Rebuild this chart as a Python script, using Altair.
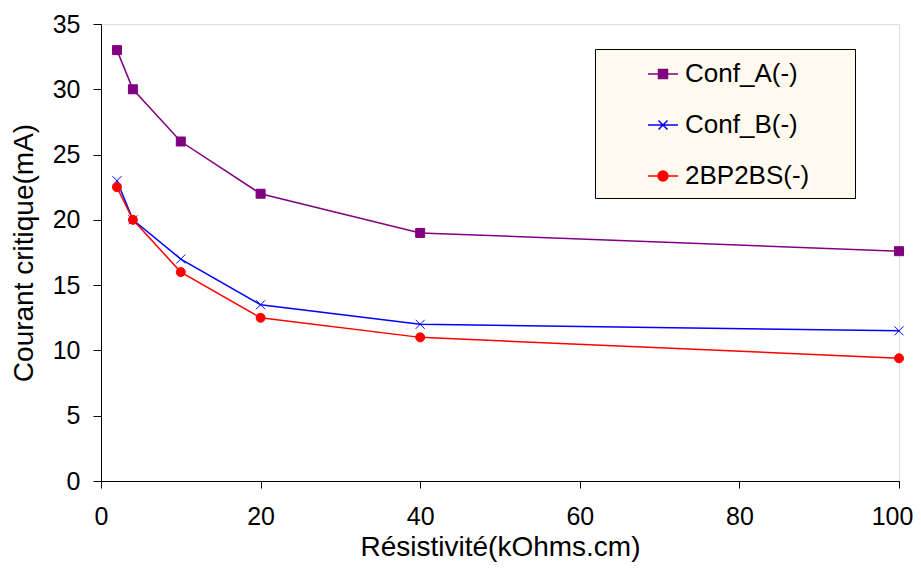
import altair as alt
import pandas as pd

# ---- data ----
resistivity = [2, 4, 10, 20, 40, 100]
conf_a = [33, 30, 26, 22, 19, 17.6]
conf_b = [23, 20, 17, 13.5, 12, 11.5]
bp2bs = [22.5, 20, 16, 12.5, 11, 9.4]

series_names = ["Conf_A(-)", "Conf_B(-)", "2BP2BS(-)"]
series_values = [conf_a, conf_b, bp2bs]
series_colors = ["#800080", "#0000FF", "#FF0000"]

x_ticks = [0, 20, 40, 60, 80, 100]
y_ticks = [0, 5, 10, 15, 20, 25, 30, 35]

rows = []
for name, vals in zip(series_names, series_values):
    for xv, yv in zip(resistivity, vals):
        rows.append({"x": xv, "y": yv, "series": name})
df = pd.DataFrame(rows)

FONT = "Liberation Sans"

# plot marker shapes
x_path = "M-1,-1L1,1M-1,1L1,-1"
plot_shapes = ["square", x_path, "circle"]
# legend symbols: line segment + marker
legend_shapes = [
    "M-1,0L1,0M-0.3,-0.3L0.3,-0.3L0.3,0.3L-0.3,0.3Z",
    "M-1,0L1,0M-0.3,-0.3L0.3,0.3M-0.3,0.3L0.3,-0.3",
    "M-1,0L1,0M-0.33,0A0.33,0.33,0,1,1,0.33,0A0.33,0.33,0,1,1,-0.33,0Z",
]

xenc = alt.X(
    "x:Q",
    scale=alt.Scale(domain=[0, 100], nice=False),
    axis=alt.Axis(
        values=x_ticks, title="Résistivité(kOhms.cm)", grid=False,
        labelFontSize=25, titleFontSize=28, tickSize=7, labelPadding=16,
        titlePadding=4, labelFont=FONT, titleFont=FONT,
        titleFontWeight="normal", domainColor="black", tickColor="black",
        labelColor="black", titleColor="black", labelFlush=False,
        labelOffset={"condition": {"test": "datum.value === 100", "value": -7}, "value": 0},
    ),
)
yenc = alt.Y(
    "y:Q",
    scale=alt.Scale(domain=[0, 35], nice=False),
    axis=alt.Axis(
        values=y_ticks, title="Courant critique(mA)", grid=False,
        labelFontSize=25, titleFontSize=28, tickSize=8, labelPadding=13,
        titlePadding=14, labelFont=FONT, titleFont=FONT,
        titleFontWeight="normal", domainColor="black", tickColor="black",
        labelColor="black", titleColor="black",
    ),
)

dom = series_names

lines = alt.Chart(df).mark_line(strokeWidth=1.5).encode(
    x=xenc, y=yenc,
    color=alt.Color("series:N", scale=alt.Scale(domain=dom, range=series_colors), legend=None),
)

points = alt.Chart(df).mark_point(strokeWidth=1, size=81, opacity=1).encode(
    x=xenc, y=yenc,
    fill=alt.Fill("series:N", scale=alt.Scale(domain=dom, range=series_colors), legend=None),
    stroke=alt.Stroke("series:N", scale=alt.Scale(domain=dom, range=series_colors), legend=None),
    shape=alt.Shape("series:N", scale=alt.Scale(domain=dom, range=plot_shapes), legend=None),
)

pad = "\u00a0" * 5 + "\u200b"
leg = alt.Legend(
    title=None, orient="none", legendX=494, legendY=25,
    fillColor="#FFFAF0", strokeColor="black", padding=9,
    rowPadding=22, symbolSize=900, symbolOffset=43, labelOffset=6,
    symbolStrokeWidth=1.5, symbolOpacity=1, labelFontSize=26, labelFont=FONT,
    labelColor="black", labelLimit=400, labelExpr="datum.label + '" + pad + "'",
)

legend_layer = alt.Chart(df).mark_point(opacity=0, filled=False).encode(
    x=xenc, y=yenc,
    fill=alt.Fill("series:N", scale=alt.Scale(domain=dom, range=series_colors), legend=leg),
    stroke=alt.Stroke("series:N", scale=alt.Scale(domain=dom, range=series_colors), legend=leg),
    shape=alt.Shape("series:N", scale=alt.Scale(domain=dom, range=legend_shapes), legend=leg),
)

chart = (
    alt.layer(lines, points, legend_layer)
    .resolve_scale(color="independent", fill="independent", stroke="independent", shape="independent")
    .properties(
        width=798, height=457,
        autosize=alt.AutoSizeParams(type="none"),
        padding={"left": 93, "top": 16, "right": 14, "bottom": 81},
    )
    .configure_view(stroke="#888888", strokeWidth=1)
    .configure(background="white")
)

chart.save("out.html", embed_options={"renderer": "svg", "actions": False})
